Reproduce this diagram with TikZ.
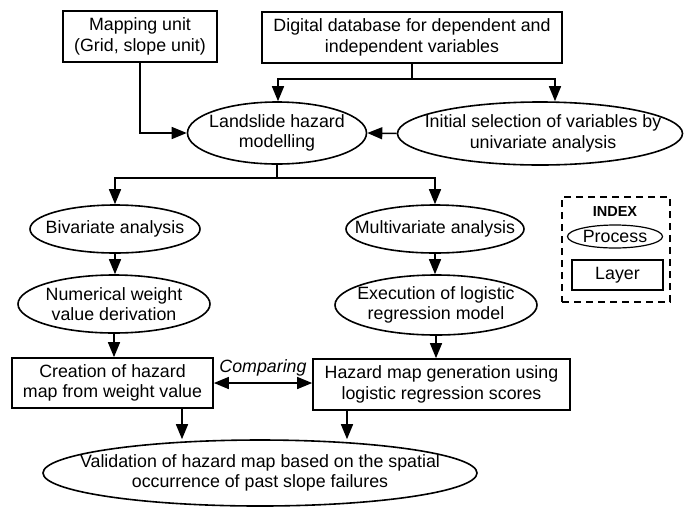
\documentclass[tikz,border=0pt]{standalone}
\usepackage{fontspec}
\setmainfont{Liberation Sans}
\usetikzlibrary{arrows.meta,shapes.geometric}

\begin{document}
\begin{tikzpicture}[x=1pt,y=-1pt,
  font=\fontsize{17.8}{20.5}\selectfont,
  layer/.style={draw, line width=1.7pt, rectangle, inner sep=0pt, align=center},
  proc/.style={draw, line width=1.6pt, ellipse, inner sep=0pt},
  txt/.style={align=center, inner sep=0pt},
  ln/.style={line width=1.5pt},
  tip/.tip={Triangle[length=15pt,width=12pt]},
  arr/.style={ln, -tip},
  darr/.style={ln, tip-tip},
]
\useasboundingbox (0,0) rectangle (684,507);
\fill[white] (0,0) rectangle (684,507);

% input layers
\node[layer, minimum width=154, minimum height=51] (mapping) at (140,36.5)
  {Mapping unit\\(Grid, slope unit)};
\node[layer, minimum width=300, minimum height=51] (database) at (412,37.5)
  {Digital database for dependent and\\independent variables};

% modelling stage
\node[proc, minimum width=179, minimum height=62] (landslide) at (277,133) {};
\node[txt] (landslide-t) at (landslide) {Landslide hazard\\modelling};
\node[proc, minimum width=285, minimum height=63] (initial) at (540,133.5) {};
\node[txt] (initial-t) at ([xshift=3]initial) {Initial selection of variables by\\univariate analysis};

% bivariate branch
\node[proc, minimum width=170, minimum height=48] (bivar) at (115,229) {};
\node[txt] (bivar-t) at (bivar) {Bivariate analysis};
\node[proc, minimum width=192, minimum height=58] (numer) at (114,304) {};
\node[txt] (numer-t) at (numer) {Numerical weight\\value derivation};
\node[layer, minimum width=201, minimum height=50] (creation) at (112.5,383)
  {Creation of hazard\\map from weight value};

% multivariate branch
\node[proc, minimum width=178, minimum height=48] (multi) at (435,229) {};
\node[txt] (multi-t) at (multi) {Multivariate analysis};
\node[proc, minimum width=202, minimum height=60] (exec) at (436,305) {};
\node[txt] (exec-t) at (exec) {Execution of logistic\\regression model};
\node[layer, minimum width=257, minimum height=51] (hazard) at (441.5,384.5)
  {Hazard map generation using\\logistic regression scores};

% validation
\node[proc, minimum width=434, minimum height=66] (valid) at (260,473) {};
\node[txt] (valid-t) at (valid) {Validation of hazard map based on the spatial\\occurrence of past slope failures};

% legend
\node[draw, line width=1.3pt, dash pattern=on 7pt off 5pt, minimum width=108, minimum height=105, inner sep=0pt] (index) at (616,249.5) {};
\node[txt, font=\fontsize{14.5}{17}\selectfont\bfseries] (index-t) at (615,212) {INDEX};
\node[proc, line width=1.2pt, minimum width=95, minimum height=23] (legproc) at (615,236.5) {};
\node[txt] (legproc-t) at (legproc) {Process};
\node[layer, line width=1.3pt, minimum width=91, minimum height=30] (leglayer) at (617.5,275) {Layer};

% connectors
\draw[arr] (mapping.south) |- (landslide.west);
\coordinate (dbj) at ([yshift=-15]database.south);
\draw[ln] (database.south) -- (dbj);
\draw[arr] (dbj) -| ([xshift=1]landslide.north);
\draw[arr] (dbj) -| ([xshift=15]initial.north);
\draw[arr] (initial.west) -- (landslide.east);

\coordinate (lsj) at ([yshift=-13]landslide.south);
\draw[ln] (landslide.south) -- (lsj);
\draw[arr] (lsj) -| (bivar.north);
\draw[arr] (lsj) -| (multi.north);

\draw[arr] (bivar.south) -- (bivar.south |- numer.north);
\draw[arr] (numer.south) -- (numer.south |- creation.north);
\draw[arr] (multi.south) -- (multi.south |- exec.north);
\draw[arr] (exec.south) -- (exec.south |- hazard.north);

\draw[darr] (creation.east) -- (creation.east -| hazard.west);
\node[txt, font=\fontsize{17.8}{20}\selectfont\itshape] (comparing) at (263,368) {Comparing};

\coordinate (c1) at ([xshift=69.5]creation.south);
\coordinate (h1) at ([xshift=-94.5]hazard.south);
\draw[arr] (c1) -- (c1 |- valid.north);
\draw[arr] (h1) -- (h1 |- valid.north);
\end{tikzpicture}
\end{document}
